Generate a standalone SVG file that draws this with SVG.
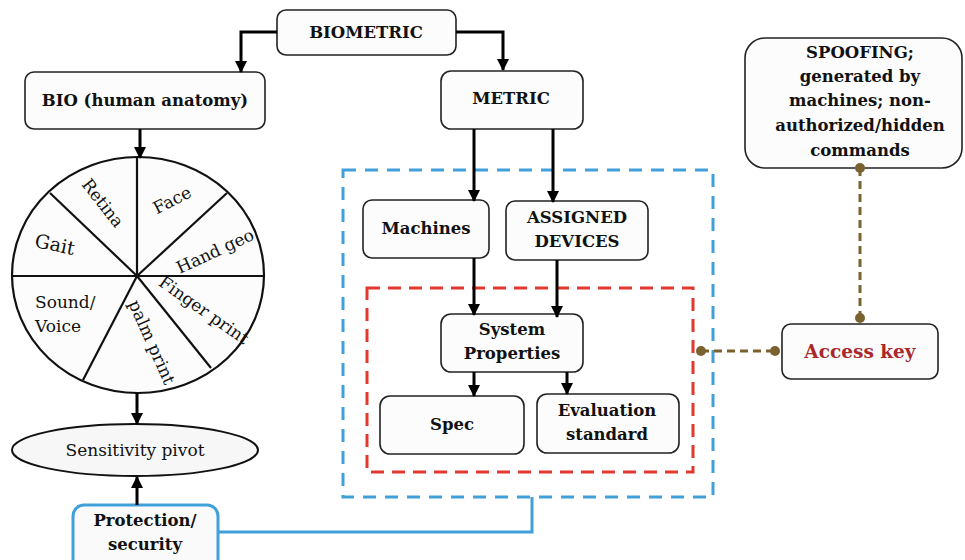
<svg xmlns="http://www.w3.org/2000/svg" width="965" height="560" viewBox="0 0 965 560">
<defs>
<style>
.box{fill:#fcfcfc;stroke:#222;stroke-width:1.6}
.bt{font-family:"DejaVu Serif","Liberation Serif",serif;font-weight:bold;font-size:16.5px;fill:#111;text-anchor:middle;dominant-baseline:central}
.rt{font-family:"DejaVu Serif","Liberation Serif",serif;font-size:17px;fill:#111;text-anchor:middle;dominant-baseline:central}
.arr{fill:none;stroke:#000;stroke-width:3;marker-end:url(#ah)}
.wl{fill:none;stroke:#111;stroke-width:2.2}
.brn{fill:none;stroke:#7a6230;stroke-width:3;stroke-dasharray:8 5}
.dot{fill:#7a6230}
</style>
<marker id="ah" markerUnits="userSpaceOnUse" markerWidth="12" markerHeight="12" refX="11" refY="6" orient="auto">
<path d="M0,0 L12,6 L0,12 z" fill="#000"/>
</marker>
</defs>
<rect width="965" height="560" fill="#fff"/>

<g id="group-blue">
<rect x="343" y="170" width="370" height="327" fill="none" stroke="#40a0da" stroke-width="3" stroke-dasharray="13 9"/>
</g>
<g id="group-red">
<rect x="367" y="288" width="326" height="184" fill="none" stroke="#e2382e" stroke-width="3" stroke-dasharray="13 8"/>
</g>

<g id="biometric">
<rect class="box" x="277" y="10" width="179" height="45" rx="9"/>
<text class="bt" x="366" y="32">BIOMETRIC</text>
</g>
<g id="bio">
<rect class="box" x="25" y="72" width="240" height="57" rx="9"/>
<text class="bt" x="145" y="100">BIO (human anatomy)</text>
</g>
<g id="metric">
<rect class="box" x="441" y="71" width="142" height="58" rx="10"/>
<text class="bt" x="511" y="98">METRIC</text>
</g>
<g id="machines">
<rect class="box" x="363" y="200" width="126" height="58" rx="9"/>
<text class="bt" x="426" y="228">Machines</text>
</g>
<g id="assigned-devices">
<rect class="box" x="506" y="201" width="142" height="59" rx="9"/>
<text class="bt" x="577" y="217">ASSIGNED</text>
<text class="bt" x="577" y="241">DEVICES</text>
</g>
<g id="system-properties">
<rect class="box" x="441" y="314" width="142" height="58" rx="10"/>
<text class="bt" x="512" y="329">System</text>
<text class="bt" x="512" y="353">Properties</text>
</g>
<g id="spec">
<rect class="box" x="380" y="396" width="144" height="58" rx="10"/>
<text class="bt" x="452" y="424">Spec</text>
</g>
<g id="evaluation-standard">
<rect class="box" x="537" y="394" width="142" height="59" rx="10"/>
<text class="bt" x="607" y="410">Evaluation</text>
<text class="bt" x="607" y="434">standard</text>
</g>
<g id="spoofing">
<rect class="box" x="745" y="38" width="217" height="130" rx="20"/>
<text class="bt" x="860" y="52">SPOOFING;</text>
<text class="bt" x="860" y="76">generated by</text>
<text class="bt" x="860" y="100">machines; non-</text>
<text class="bt" x="860" y="125">authorized/hidden</text>
<text class="bt" x="860" y="150">commands</text>
</g>
<g id="access-key">
<rect class="box" x="782" y="324" width="156" height="55" rx="9"/>
<text class="bt" x="860" y="351" style="font-size:18.5px;fill:#a8282c">Access key</text>
</g>

<g id="wheel">
<ellipse cx="138" cy="275" rx="126" ry="118" fill="#fcfcfc" stroke="#111" stroke-width="2.2"/>
<line class="wl" x1="12" y1="276" x2="264" y2="276"/>
<line class="wl" x1="137" y1="157" x2="137" y2="276"/>
<line class="wl" x1="137" y1="276" x2="50" y2="193"/>
<line class="wl" x1="137" y1="276" x2="227" y2="193"/>
<line class="wl" x1="137" y1="276" x2="83" y2="380"/>
<line class="wl" x1="137" y1="276" x2="211" y2="368"/>
<text class="rt" transform="translate(103,203) rotate(52)">Retina</text>
<text class="rt" transform="translate(172,200) rotate(-27)">Face</text>
<text class="rt" transform="translate(55,244) rotate(12)" style="font-size:19px">Gait</text>
<text class="rt" transform="translate(215,251) rotate(-25)">Hand geo</text>
<text class="rt" transform="translate(204,310) rotate(35)">Finger print</text>
<text class="rt" transform="translate(152,342) rotate(66)">palm print</text>
<text class="rt" x="35" y="302" style="text-anchor:start">Sound/</text>
<text class="rt" x="35" y="326" style="text-anchor:start">Voice</text>
</g>

<g id="sensitivity-pivot">
<ellipse cx="135" cy="450" rx="123" ry="26" fill="#f7f7f7" stroke="#111" stroke-width="2"/>
<text class="rt" x="135" y="450">Sensitivity pivot</text>
</g>
<g id="protection-security">
<rect x="73" y="505" width="145" height="72" rx="11" fill="#fafafa" stroke="#40a0da" stroke-width="3"/>
<text class="bt" x="145" y="520">Protection/</text>
<text class="bt" x="145" y="544">security</text>
</g>

<g id="connectors">
<path class="arr" d="M277,32 H241 V72"/>
<path class="arr" d="M456,32 H503 V70"/>
<path class="arr" d="M140,129 V158"/>
<path class="arr" d="M474,129 V201"/>
<path class="arr" d="M553,129 V202"/>
<path class="arr" d="M474,258 V315"/>
<path class="arr" d="M557,260 V317"/>
<path class="arr" d="M474,372 V396"/>
<path class="arr" d="M567,372 V394"/>
<path class="arr" d="M137,393 V424"/>
<path class="arr" d="M137,505 V477"/>
<path d="M218,532 H532 V497" fill="none" stroke="#40a0da" stroke-width="3"/>
<path class="brn" d="M860,168 V318"/>
<path class="brn" d="M701,351 H775"/>
<circle class="dot" cx="860" cy="168" r="5"/>
<circle class="dot" cx="860" cy="318" r="5"/>
<circle class="dot" cx="701" cy="351" r="5"/>
<circle class="dot" cx="775" cy="351" r="5"/>
</g>
</svg>
